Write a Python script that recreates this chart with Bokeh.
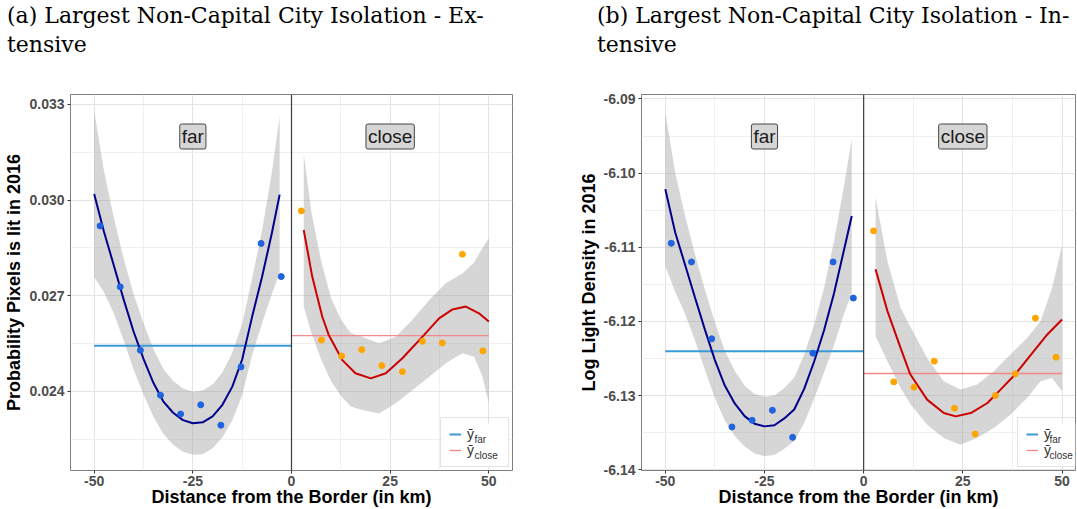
from bokeh.plotting import figure
from bokeh.models import (Range1d, FixedTicker, PrintfTickFormatter, Span, Label,
                          Legend, LegendItem, BoxAnnotation, Div)
from bokeh.layouts import row, column
from bokeh.embed import file_html
from bokeh.resources import INLINE

SANS = "Liberation Sans"
SERIF = "DejaVu Serif"

# ---------------- data ----------------
FAR_X = [-48.5, -43.4, -38.3, -33.2, -28.1, -23.0, -17.9, -12.8, -7.7, -2.6]
CLOSE_X = [2.5, 7.6, 12.7, 17.8, 22.9, 28.1, 33.2, 38.2, 43.3, 48.5]

A_FAR_Y = [0.02919, 0.02728, 0.02529, 0.02388, 0.02329, 0.02358, 0.02294, 0.02477, 0.02864, 0.02760]
A_CLOSE_Y = [0.02966, 0.02561, 0.02511, 0.02531, 0.02481, 0.02462, 0.02557, 0.02552, 0.02830, 0.02527]
B_FAR_Y = [-6.10946, -6.11198, -6.12234, -6.13423, -6.13333, -6.13198, -6.13563, -6.12428, -6.11198, -6.11685]
B_CLOSE_Y = [-6.10779, -6.12815, -6.12887, -6.12536, -6.13171, -6.13518, -6.12999, -6.12707, -6.11955, -6.12482]

A_FAR_MEAN = 0.02543
A_CLOSE_MEAN = 0.02575
B_FAR_MEAN = -6.12401
B_CLOSE_MEAN = -6.12703
FAR_SEG = [-50, 0]
CLOSE_SEG = [0, 50]

# smooth fits (far side) with confidence half widths
FIT_FAR_X = [-50, -47.5, -45, -42.5, -40, -37.5, -35, -32.5, -30, -27.5,
             -25, -22.5, -20, -17.5, -15, -12.5, -10, -7.5, -5, -3]
A_FAR_FIT = [0.03019, 0.02900, 0.02794, 0.02687, 0.02587, 0.02502, 0.02427, 0.02369, 0.02333, 0.02310,
             0.02300, 0.02303, 0.02322, 0.02358, 0.02415, 0.02500, 0.02633, 0.02757, 0.02895, 0.03017]
A_FAR_HW = [0.0026, 0.0019, 0.0015, 0.00128, 0.00118, 0.00112, 0.00106, 0.00102, 0.00100, 0.00099,
            0.00099, 0.00100, 0.00100, 0.00102, 0.00106, 0.00112, 0.00120, 0.00145, 0.0019, 0.00246]
B_FAR_FIT = [-6.10216, -6.10800, -6.11239, -6.11681, -6.12114, -6.12521, -6.12865, -6.13106, -6.13277, -6.13380,
             -6.13415, -6.13400, -6.13308, -6.13187, -6.12910, -6.12544, -6.12123, -6.11627, -6.11046, -6.10577]
B_FAR_HW = [0.0104, 0.0080, 0.0066, 0.0058, 0.0054, 0.0051, 0.0047, 0.0044, 0.0041, 0.0040,
            0.0040, 0.0040, 0.0041, 0.0043, 0.0046, 0.0050, 0.0057, 0.0070, 0.0086, 0.0104]

# smooth fits (close side)
A_CLOSE_FIT_X = [3.1, 5.25, 7.8, 9.5, 12.9, 16.2, 20.1, 23.9, 28.1, 33.2, 37.4, 40.8, 44.2, 47.5, 50.0]
A_CLOSE_FIT = [0.02906, 0.02760, 0.02634, 0.02575, 0.02498, 0.02457, 0.02441, 0.02457, 0.02504, 0.02572,
               0.02629, 0.02657, 0.02666, 0.02645, 0.02619]
A_CLOSE_BAND_X = [3.1, 5, 7.5, 10, 12.5, 15, 17.9, 22.2, 26.4, 30.6, 34.9, 39.1, 43.3, 46.3, 48.4, 50.0]
A_CLOSE_HI = [0.03146, 0.02965, 0.02810, 0.02693, 0.02626, 0.02583, 0.02571, 0.02551, 0.02571, 0.02624,
              0.02687, 0.02739, 0.02770, 0.02805, 0.02850, 0.02880]
A_CLOSE_LO = [0.02666, 0.02585, 0.02500, 0.02433, 0.02386, 0.02353, 0.02342, 0.02331, 0.02363, 0.02404,
              0.02446, 0.02488, 0.02520, 0.02509, 0.02446, 0.02363]

B_CLOSE_FIT_X = [3.0, 6.0, 9.3, 11.7, 16.0, 20.2, 23.2, 27.0, 31.2, 34.5, 38.3, 42.9, 46.3, 50.0]
B_CLOSE_FIT = [-6.11297, -6.11861, -6.12357, -6.12708, -6.13054, -6.13235, -6.13280, -6.13235, -6.13100,
               -6.12919, -6.12708, -6.12401, -6.12176, -6.11973]
B_CLOSE_BAND_X = [3.0, 6.0, 9.3, 11.9, 16.0, 20.2, 24.4, 28.6, 32.8, 37.0, 41.2, 44.6, 47.5, 50.0]
B_CLOSE_HI = [-6.10330, -6.11190, -6.11817, -6.12086, -6.12492, -6.12807, -6.12919, -6.12851, -6.12672,
              -6.12446, -6.12222, -6.11996, -6.11546, -6.10982]
B_CLOSE_LO = [-6.12199, -6.12536, -6.12897, -6.13122, -6.13392, -6.13573, -6.13662, -6.13573, -6.13438,
              -6.13257, -6.13032, -6.12807, -6.12762, -6.12942]

X_TICKS = [-50, -25, 0, 25, 50]
X_MINOR = [-37.5, -12.5, 12.5, 37.5]
A_Y_TICKS = [0.024, 0.027, 0.030, 0.033]
A_Y_MINOR = [0.0225, 0.0255, 0.0285, 0.0315]
B_Y_TICKS = [-6.14, -6.13, -6.12, -6.11, -6.10, -6.09]
B_Y_MINOR = [-6.135, -6.125, -6.115, -6.105, -6.095]

A_RANGE_X = (-56.0, 56.0)
A_RANGE_Y = (0.02152, 0.03331)
B_RANGE_X = (-56.0, 53.4)
B_RANGE_Y = (-6.1401, -6.0894)

TITLE_A = ["(a) Largest Non-Capital City Isolation - Ex-", "tensive"]
TITLE_B = ["(b) Largest Non-Capital City Isolation - In-", "tensive"]
FACETS = [(-25, "far"), (25, "close")]
LEGEND_SUBS = ["far", "close"]
XLABEL = "Distance from the Border (in km)"
YLABEL_A = "Probability Pixels is lit in 2016"
YLABEL_B = "Log Light Density in 2016"

TITLE_H = 84
FIG_H = 425
TOP = 10
FRAME_H = 376
BOTTOM = FIG_H - TOP - FRAME_H


def title_div(lines, width, pad_left):
    html = ('<div style="font-family:\'DejaVu Serif\';font-size:22px;line-height:29px;'
            'color:#000000;white-space:nowrap;padding-left:%dpx;padding-top:1px;margin:0;">%s</div>'
            % (pad_left, "<br>".join(lines)))
    return Div(text=html, width=width, height=TITLE_H, margin=0)


def panel(ylabel, xr, yr, yticks, yminor, yfmt, far_y, close_y,
          far_mean, close_mean, far_fit, far_hw, cfx, cfit, cbx, clo, chi,
          width, bl, br, legend_loc, legend_left):
    frame_w = width - bl - br
    p = figure(width=width, height=FIG_H, x_range=Range1d(*xr), y_range=Range1d(*yr),
               output_backend="svg", toolbar_location=None, title=None,
               min_border_left=bl, min_border_right=br,
               min_border_top=TOP, min_border_bottom=BOTTOM)
    p.background_fill_color = "white"
    p.border_fill_color = "white"
    p.outline_line_color = "#7F7F7F"
    p.outline_line_width = 1

    xt = FixedTicker(ticks=X_TICKS, minor_ticks=X_MINOR)
    yt = FixedTicker(ticks=yticks, minor_ticks=yminor)
    p.xaxis.ticker = xt
    p.yaxis.ticker = yt
    p.xgrid.ticker = xt
    p.ygrid.ticker = yt
    p.xaxis.formatter = PrintfTickFormatter(format="%d")
    p.yaxis.formatter = PrintfTickFormatter(format=yfmt)
    for g in (p.xgrid, p.ygrid):
        g.grid_line_color = "#E3E3E3"
        g.grid_line_width = 1
        g.minor_grid_line_color = "#F0F0F0"
        g.minor_grid_line_width = 1
    for ax in (p.xaxis, p.yaxis):
        ax.axis_line_color = None
        ax.major_tick_line_color = "#333333"
        ax.major_tick_in = 0
        ax.major_tick_out = 3
        ax.minor_tick_line_color = None
        ax.major_label_text_font = SANS
        ax.major_label_text_font_style = "bold"
        ax.major_label_text_font_size = "14px"
        ax.major_label_text_color = "#4D4D4D"
        ax.axis_label_text_font = SANS
        ax.axis_label_text_font_style = "bold"
        ax.axis_label_text_font_size = "18px"
        ax.axis_label_text_color = "black"
    p.yaxis.major_label_standoff = 2
    p.yaxis.axis_label_standoff = 2
    p.xaxis.major_label_standoff = 1
    p.xaxis.axis_label_standoff = -2
    p.xaxis.axis_label = XLABEL
    p.yaxis.axis_label = ylabel

    # confidence bands
    far_lo = [f - h for f, h in zip(far_fit, far_hw)]
    far_hi = [f + h for f, h in zip(far_fit, far_hw)]
    p.varea(x=FIT_FAR_X, y1=far_lo, y2=far_hi, fill_color="#999999", fill_alpha=0.4)
    p.varea(x=cbx, y1=clo, y2=chi, fill_color="#999999", fill_alpha=0.4)

    # means
    fl = p.line(FAR_SEG, [far_mean, far_mean], line_color="#3A9AD6", line_width=2)
    cl = p.line(CLOSE_SEG, [close_mean, close_mean], line_color="#F4888A", line_width=1.4)

    # fits
    p.line(FIT_FAR_X, far_fit, line_color="#00008B", line_width=2)
    p.line(cfx, cfit, line_color="#CC0000", line_width=2)

    # points
    p.scatter(FAR_X, far_y, size=6, color="#1F63DE")
    p.scatter(CLOSE_X, close_y, size=6, color="#FFA500")

    p.add_layout(Span(location=0, dimension="height", line_color="#3C3C3C", line_width=1.2))

    # facet labels
    for xc, txt in FACETS:
        p.add_layout(Label(x=xc, y=yr[1], y_offset=-42, text=txt, text_align="center",
                           text_baseline="middle", text_font=SANS, text_font_size="19px",
                           text_color="#1A1A1A", background_fill_color="#D6D6D6",
                           border_line_color="#444444", border_line_width=1,
                           padding=2, border_radius=2))

    # legend: white box, entries, subscripts
    box_left_px = frame_w - 3 - 67 if legend_left is None else legend_left
    ux = (xr[1] - xr[0]) / frame_w
    uy = (yr[1] - yr[0]) / FRAME_H
    p.add_layout(BoxAnnotation(left=xr[0] + box_left_px * ux,
                               right=min(xr[1], xr[0] + (box_left_px + 67) * ux),
                               bottom=yr[0] + 3 * uy, top=yr[0] + 47 * uy,
                               fill_color="white", fill_alpha=1, line_color=None))
    legend = Legend(items=[LegendItem(label="ȳ", renderers=[fl]),
                           LegendItem(label="ȳ", renderers=[cl])],
                    location=legend_loc, margin=3, padding=8, spacing=0,
                    glyph_width=12, glyph_height=14, label_height=14, label_width=33,
                    label_standoff=6, label_text_font=SANS, label_text_font_size="14px",
                    label_text_color="#333333", border_line_color="#C8C8C8",
                    border_line_width=1, background_fill_alpha=0)
    p.add_layout(legend)
    for yo, sub in zip((31, 15), LEGEND_SUBS):
        p.add_layout(Label(x=xr[0], y=yr[0], x_offset=box_left_px + 32, y_offset=yo, text=sub,
                           text_align="left", text_baseline="middle", text_font=SANS,
                           text_font_size="10px", text_color="#333333", level="overlay"))
    return p


pa = panel(YLABEL_A, A_RANGE_X, A_RANGE_Y, A_Y_TICKS, A_Y_MINOR, "%.3f",
           A_FAR_Y, A_CLOSE_Y, A_FAR_MEAN, A_CLOSE_MEAN, A_FAR_FIT, A_FAR_HW,
           A_CLOSE_FIT_X, A_CLOSE_FIT, A_CLOSE_BAND_X, A_CLOSE_LO, A_CLOSE_HI,
           width=575, bl=70, br=63, legend_loc="bottom_right", legend_left=None)
pb = panel(YLABEL_B, B_RANGE_X, B_RANGE_Y, B_Y_TICKS, B_Y_MINOR, "%.2f",
           B_FAR_Y, B_CLOSE_Y, B_FAR_MEAN, B_CLOSE_MEAN, B_FAR_FIT, B_FAR_HW,
           B_CLOSE_FIT_X, B_CLOSE_FIT, B_CLOSE_BAND_X, B_CLOSE_LO, B_CLOSE_HI,
           width=502, bl=66, br=2, legend_loc=(376, 3), legend_left=376)

layout = row(column(title_div(TITLE_A, 575, 7), pa, spacing=0),
             column(title_div(TITLE_B, 502, 22), pb, spacing=0), spacing=0)
open("out.html", "w").write(file_html(layout, INLINE))
